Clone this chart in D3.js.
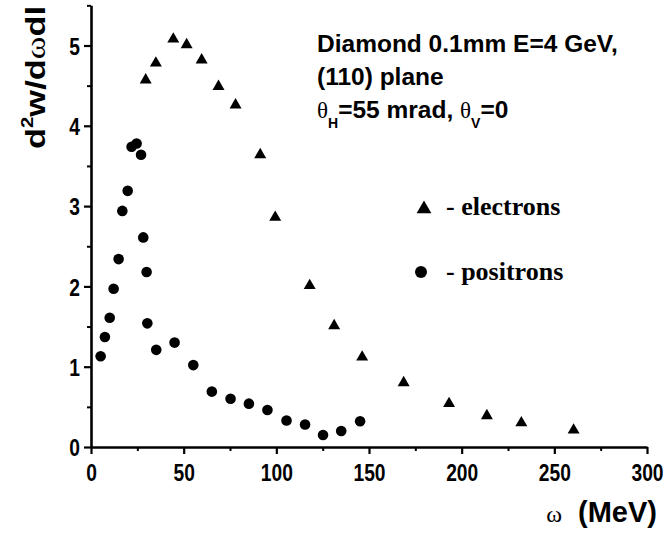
<!DOCTYPE html>
<html><head><meta charset="utf-8">
<script src="https://cdn.jsdelivr.net/npm/d3@7/dist/d3.min.js"></script>
<style>body{margin:0;background:#fff}svg{display:block}</style>
</head><body><svg id="c" width="665" height="535"></svg>
<script>
// ---- data ----
const electronOmega = [29.5, 35, 44.4, 51.6, 59.7, 68.8, 78, 91.3, 99.4, 118, 131.2, 146.3, 168.7, 193.2, 213.6, 232.2, 260.4];
const electronYield = [4.57, 4.78, 5.08, 5.01, 4.82, 4.49, 4.26, 3.64, 2.86, 2.01, 1.51, 1.12, 0.80, 0.54, 0.39, 0.30, 0.21];
const positronOmega = [5.2, 7.5, 10.1, 12.2, 14.9, 16.9, 19.8, 21.9, 24.6, 27, 28.2, 30, 30.4, 35.2, 45.1, 55.2, 65.2, 75.3, 85.2, 95.2, 105.5, 115.5, 125.2, 135, 145.2];
const positronYield = [1.13, 1.37, 1.61, 1.97, 2.34, 2.94, 3.19, 3.74, 3.78, 3.64, 2.61, 2.18, 1.54, 1.21, 1.30, 1.02, 0.69, 0.60, 0.54, 0.46, 0.33, 0.28, 0.15, 0.20, 0.32];
const xTicks = [0, 50, 100, 150, 200, 250, 300];
const xMinorTicks = [25, 75, 125, 175, 225, 275];
const yTicks = [0, 1, 2, 3, 4, 5];
const yMinorTicks = [0.5, 1.5, 2.5, 3.5, 4.5, 5.5];
const legendLabels = ["- electrons", "- positrons"];
const annotationLine1 = "Diamond 0.1mm E=4 GeV,";
const annotationLine2 = "(110) plane";

// ---- chart ----
const svg = d3.select("#c");
const x = d3.scaleLinear().domain([0, 300]).range([91, 647]);
const y = d3.scaleLinear().domain([0, 5.5]).range([447, 5.35]);
const sans = "'Liberation Sans',Arial,Helvetica,sans-serif";
const serif = "'Liberation Serif','Times New Roman',Times,serif";
const squeeze = 0.8;

// minor ticks
svg.append("g").attr("transform", "translate(0,447)")
  .call(d3.axisBottom(x).tickValues(xMinorTicks).tickSize(4).tickFormat(""))
  .call(g => g.select(".domain").remove())
  .call(g => g.selectAll("line").attr("stroke-width", 2));
svg.append("g").attr("transform", "translate(91,0)")
  .call(d3.axisLeft(y).tickValues(yMinorTicks).tickSize(4).tickFormat(""))
  .call(g => g.select(".domain").remove())
  .call(g => g.selectAll("line").attr("stroke-width", 2));

// major axes
const xAxis = svg.append("g").attr("transform", "translate(0,447)")
  .call(d3.axisBottom(x).tickValues(xTicks).tickFormat(d3.format("d")).tickSize(7).tickSizeOuter(0));
const yAxis = svg.append("g").attr("transform", "translate(91,0)")
  .call(d3.axisLeft(y).tickValues(yTicks).tickFormat(d3.format("d")).tickSize(7).tickSizeOuter(0));
[xAxis, yAxis].forEach(g => {
  g.select(".domain").attr("stroke-width", 2.6);
  g.selectAll(".tick line").attr("stroke-width", 2.2);
  g.selectAll(".tick text").attr("font-family", sans).attr("font-weight", "bold")
    .attr("font-size", 24).attr("fill", "#000")
    .attr("transform", `scale(${squeeze},1)`);
});
xAxis.selectAll(".tick text").attr("dy", null).attr("y", 34);
yAxis.selectAll(".tick text").attr("x", -11 / squeeze).attr("dy", "0.36em");

// data points
svg.append("g").selectAll("path").data(electronOmega).join("path")
  .attr("d", d3.symbol(d3.symbolTriangle, 62))
  .attr("transform", (d, i) => `translate(${x(d)},${y(electronYield[i])})`)
  .attr("fill", "#000");
svg.append("g").selectAll("circle").data(positronOmega).join("circle")
  .attr("cx", d => x(d)).attr("cy", (d, i) => y(positronYield[i]))
  .attr("r", 5.3).attr("fill", "#000");

// y title
const yt = svg.append("text")
  .attr("transform", "translate(45,149) rotate(-90)")
  .attr("font-family", sans).attr("font-weight", "bold").attr("font-size", 27)
  .attr("textLength", 143).attr("lengthAdjust", "spacingAndGlyphs");
yt.append("tspan").text("d");
yt.append("tspan").attr("font-size", 16).attr("dy", -12).text("2");
yt.append("tspan").attr("dy", 12).text("w/d");
yt.append("tspan").attr("font-weight", "normal").attr("font-family", serif).text("ω");
yt.append("tspan").text("dl");

// x title
svg.append("text").attr("x", 657).attr("y", 522).attr("text-anchor", "end")
  .attr("font-family", sans).attr("font-weight", "bold").attr("font-size", 29).text("(MeV)");
svg.append("text").attr("x", 562).attr("y", 522).attr("text-anchor", "end")
  .attr("font-family", serif).attr("font-size", 24).text("ω");

// annotation
const ann = svg.append("g").attr("font-family", sans).attr("font-weight", "bold").attr("font-size", 24.5);
ann.append("text").attr("x", 317).attr("y", 52).text(annotationLine1);
ann.append("text").attr("x", 317).attr("y", 85).text(annotationLine2);
const l3 = ann.append("text").attr("x", 317).attr("y", 118);
l3.append("tspan").attr("font-family", serif).attr("font-weight", "normal").attr("font-size", 23).text("θ");
l3.append("tspan").attr("font-size", 14).attr("dy", 10).text("H");
l3.append("tspan").attr("dy", -10).text("=55 mrad, ");
l3.append("tspan").attr("font-family", serif).attr("font-weight", "normal").attr("font-size", 23).text("θ");
l3.append("tspan").attr("font-size", 14).attr("dy", 10).text("V");
l3.append("tspan").attr("dy", -10).text("=0");

// legend
svg.append("path").attr("d", d3.symbol(d3.symbolTriangle, 95)).attr("transform", "translate(424,209)").attr("fill", "#000");
svg.append("circle").attr("cx", 421).attr("cy", 272).attr("r", 6).attr("fill", "#000");
const leg = svg.append("g").attr("font-family", serif).attr("font-weight", "bold").attr("font-size", 26);
leg.append("text").attr("x", 446).attr("y", 215).text(legendLabels[0]);
leg.append("text").attr("x", 446).attr("y", 280).text(legendLabels[1]);
</script></body></html>
